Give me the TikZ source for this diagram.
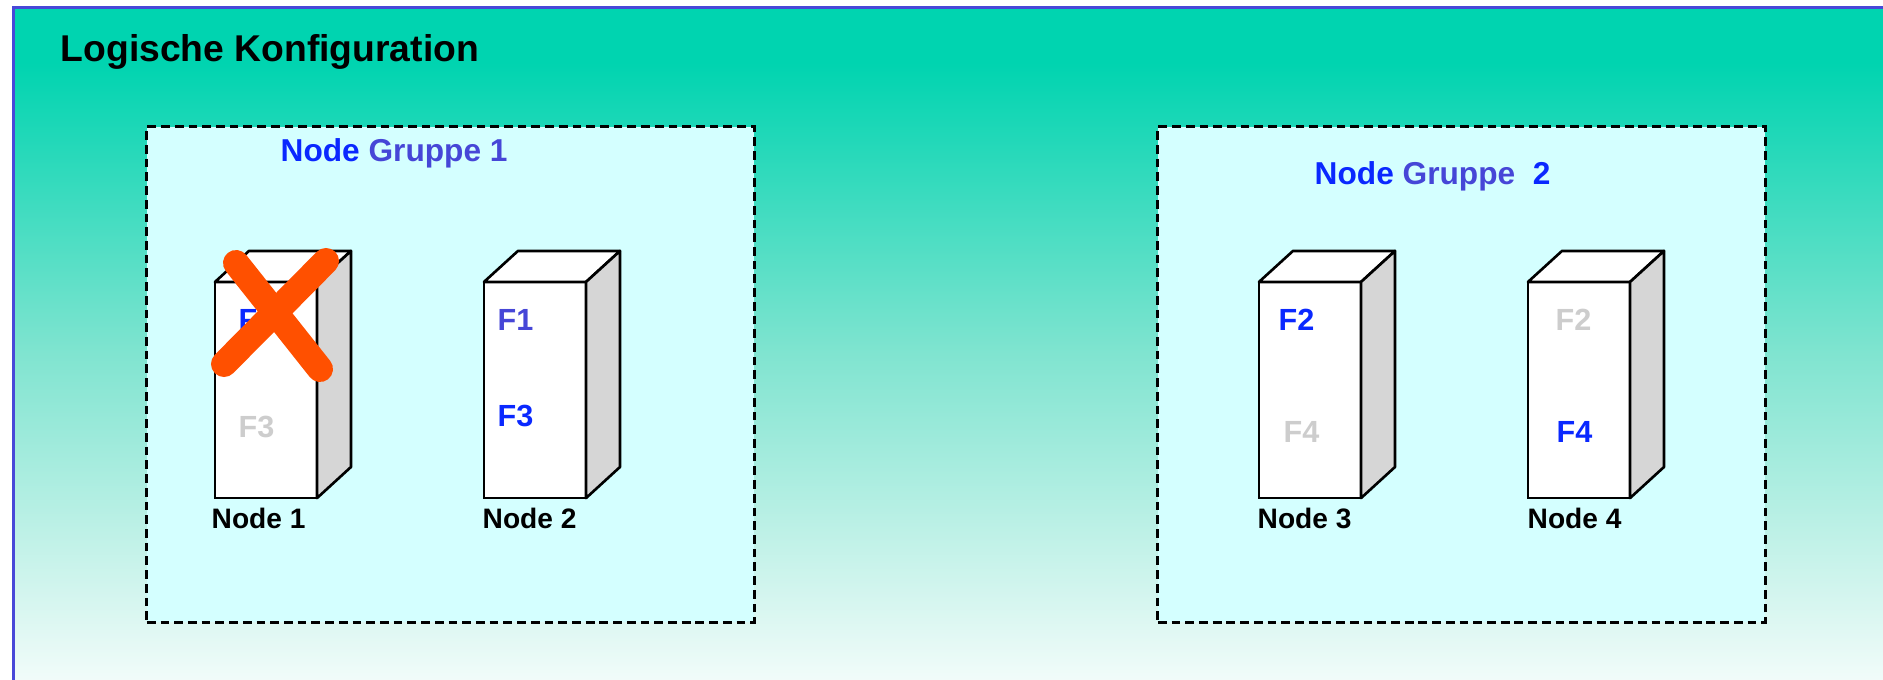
\documentclass[tikz,border=0pt]{standalone}
\usepackage{fontspec}
\setmainfont{Liberation Sans}
\usetikzlibrary{positioning}

\definecolor{fadetop}{RGB}{0,212,176}
\definecolor{fademid}{RGB}{128,228,208}
\definecolor{fadebot}{RGB}{248,253,252}
\definecolor{frameblue}{RGB}{72,72,216}
\definecolor{groupcyan}{RGB}{212,255,255}
\definecolor{nodeblue}{RGB}{10,40,255}
\definecolor{softblue}{RGB}{70,70,215}
\definecolor{offgrey}{RGB}{205,205,205}
\definecolor{sidegrey}{RGB}{214,214,214}
\definecolor{failred}{RGB}{255,80,0}

\pgfdeclareverticalshading{konfigfade}{100bp}{color(0bp)=(fadebot); color(25bp)=(fadebot); color(50bp)=(fademid); color(71bp)=(fadetop); color(100bp)=(fadetop)}

\begin{document}
\begin{tikzpicture}[
      x=0.01cm, y=-0.01cm,
      titlelbl/.style={anchor=base west, inner sep=0pt, font=\fontsize{10.6}{12}\selectfont\bfseries},
      grouplbl/.style={anchor=base west, inner sep=0pt, font=\fontsize{9.0}{11}\selectfont\bfseries},
      nodegroup/.style={draw, line width=0.8pt, dash pattern=on 2.5pt off 1.4pt, fill=groupcyan,
        minimum width=6.07cm, minimum height=4.95cm, inner sep=0pt, outer sep=0pt},
      cabinet/.style={draw, line width=0.75pt, fill=white, minimum width=1.02cm, minimum height=2.16cm,
        inner sep=0pt, outer sep=0pt},
      topface/.style={draw, line width=0.75pt, fill=white, line join=round},
      sideface/.style={draw, line width=0.75pt, fill=sidegrey, line join=round},
      func/.style={anchor=base west, inner sep=0pt, font=\fontsize{8.7}{10}\selectfont\bfseries},
      funcon/.style={func, text=nodeblue},
      funcsoft/.style={func, text=softblue},
      funcoff/.style={func, text=offgrey},
      nodelbl/.style={anchor=base west, inner sep=0pt, font=\fontsize{8.0}{10}\selectfont\bfseries},
      failcross/.style={draw=failred, line width=7.4pt, line cap=round}
    ]
    \useasboundingbox (0,0) rectangle (1883,679);
    \clip (0,0) rectangle (1883,679);

    % Hintergrund
    \shade[shading=konfigfade, draw=frameblue, line width=0.8pt] (13.5,7.5) rectangle (1900,700);
    \node[titlelbl] (title) at (60,62) {Logische Konfiguration};

    % Gruppen
    \node[nodegroup] (g1) at (450.5,374.5) {};
    \node[nodegroup] (g2) at (1461.5,374.5) {};
    \node[grouplbl] (g1lbl) at (280,162)
      {\textcolor{nodeblue}{Node} \textcolor{softblue}{Gruppe 1}};
    \node[grouplbl] (g2lbl) at (1314,185)
      {\textcolor{nodeblue}{Node} \textcolor{softblue}{Gruppe}\ \ \textcolor{nodeblue}{2}};

    % Nodes
    \node[cabinet] (n1) at (266,390) {};
    \node[cabinet] (n2) at (535,390) {};
    \node[cabinet] (n3) at (1310,390) {};
    \node[cabinet] (n4) at (1579,390) {};
    \foreach \n in {n1,n2,n3,n4} {
      \draw[topface] (\n.north west) -- ++(34,-31) -- ++(102,0) -- (\n.north east) -- cycle;
      \draw[sideface] (\n.north east) -- ++(34,-31) -- ++(0,216) -- (\n.south east) -- cycle;
    }

    \node[funcon]   (n1a) at (238,330)  {F1};
    \node[funcoff]  (n1b) at (238,437)  {F3};
    \node[funcsoft] (n2a) at (497,330)  {F1};
    \node[funcon]   (n2b) at (497,426)  {F3};
    \node[funcon]   (n3a) at (1278,330) {F2};
    \node[funcoff]  (n3b) at (1283,442) {F4};
    \node[funcoff]  (n4a) at (1555,330) {F2};
    \node[funcon]   (n4b) at (1556,442) {F4};

    \node[nodelbl] (n1lbl) at (211,528)  {Node 1};
    \node[nodelbl] (n2lbl) at (482,528)  {Node 2};
    \node[nodelbl] (n3lbl) at (1257,528) {Node 3};
    \node[nodelbl] (n4lbl) at (1527,528) {Node 4};

    % Ausfall Node 1
    \draw[failcross] (236,263) -- (320,369);
    \draw[failcross] (326,261) -- (224,364);
  \end{tikzpicture}
\end{document}
